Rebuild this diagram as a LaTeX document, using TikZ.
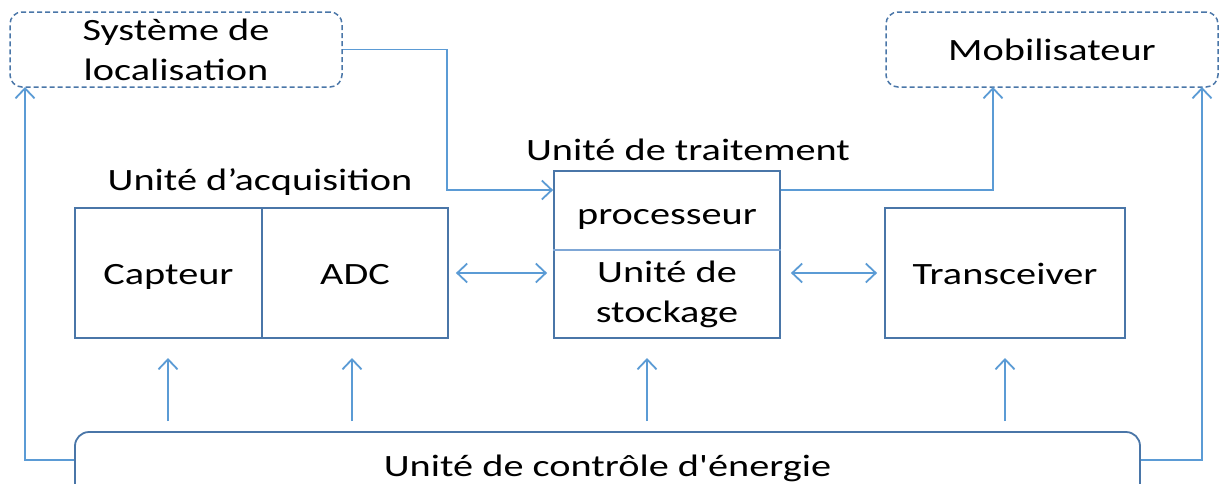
\documentclass[tikz,border=0pt]{standalone}
\usepackage{fontspec}
\setmainfont{Carlito}[FakeStretch=1.3]
\newfontfamily\plainquote{Carlito}[FakeStretch=1.3]
\usetikzlibrary{arrows.meta,calc}
\definecolor{boxc}{HTML}{4A76A8}
\definecolor{arrc}{HTML}{5B9BD5}
\definecolor{divc}{HTML}{7FA7D6}
\tikzset{
  txt/.style={font=\fontsize{31}{40}\selectfont, text=black, align=center},
  unit/.style={txt, draw=boxc, line width=1.8pt, inner sep=0pt},
  oneline/.style={text height=26pt, text depth=4pt},
  ext/.style={txt, draw=boxc, line width=1.5pt, dashed, dash pattern=on 5pt off 3pt, rounded corners=12pt, inner sep=0pt},
  conn/.style={draw=arrc, line width=1.8pt},
  tip/.style={-{Straight Barb[length=10pt,width=19pt,line width=1.8pt]}},
  tips/.style={{Straight Barb[length=10pt,width=19pt,line width=1.8pt]}-{Straight Barb[length=10pt,width=19pt,line width=1.8pt]}}
}
\begin{document}
\begin{tikzpicture}[x=1pt,y=-1pt]
\useasboundingbox (0,0) rectangle (1224,483);
\clip (0,0) rectangle (1224,483);

% external systems
\node[ext, minimum width=332pt, minimum height=75pt] (loc) at (176,49.5)
  {\fontsize{31}{35}\selectfont Système de\\localisation};
\node[ext, minimum width=332pt, minimum height=75pt] (mob) at (1052,49.5) {Mobilisateur};

% acquisition unit
\node[txt] (acqlbl) at (260,182) {Unité d’acquisition};
\node[unit, oneline, minimum width=187pt, minimum height=130pt] (cap) at (168.5,273) {Capteur};
\node[unit, oneline, minimum width=186pt, minimum height=130pt] (adc) at (355,273) {ADC};

% processing unit
\node[txt] (trtlbl) at (688,150) {Unité de traitement};
\node[unit, minimum width=226pt, minimum height=167pt] (trt) at (667,254.5) {};
\node[txt] (proc) at (667,219) {processeur};
\node[txt] (stock) at (667,294) {\fontsize{31}{41}\selectfont Unité de\\stockage};
\draw[divc, line width=1.2pt] (trt.west |- 0,250) -- (trt.east |- 0,250);

% transceiver
\node[unit, oneline, minimum width=240pt, minimum height=130pt] (trx) at (1005,273) {Transceiver};

% energy control unit
\node[unit, rounded corners=14pt, minimum width=1065pt, minimum height=80pt, text height=20pt, text depth=12pt] (nrg) at (607.5,472)
  {Unité de contrôle d{\plainquote '}énergie};

% routing points
\coordinate (k1) at (447,190);
\coordinate (m1) at (993,87);
\coordinate (l1) at (25,87);
\coordinate (r1) at (1202,87);
\coordinate (u1) at (168,338);
\coordinate (u2) at (352,338);
\coordinate (u3) at (647,338);
\coordinate (u4) at (1005,338);

% data paths
\draw[conn,tip] (loc.east) -| (k1) -- (k1 -| trt.west);
\draw[conn,tip] (trt.east |- k1) -| (m1);
\draw[conn,tips, shorten <=7pt, shorten >=6pt] (adc.east) -- (adc.east -| trt.west);
\draw[conn,tips, shorten <=10pt, shorten >=7pt] (trt.east |- adc.east) -- (trx.west);

% power supply paths
\draw[conn,tip] (nrg.west |- 0,460) -| (l1);
\draw[conn,tip] (nrg.east |- 0,460) -| (r1);
\foreach \u in {u1,u2,u3,u4}
  \draw[conn,tip, shorten <=10pt, shorten >=20pt] (\u |- nrg.north) -- (\u);
\end{tikzpicture}
\end{document}
